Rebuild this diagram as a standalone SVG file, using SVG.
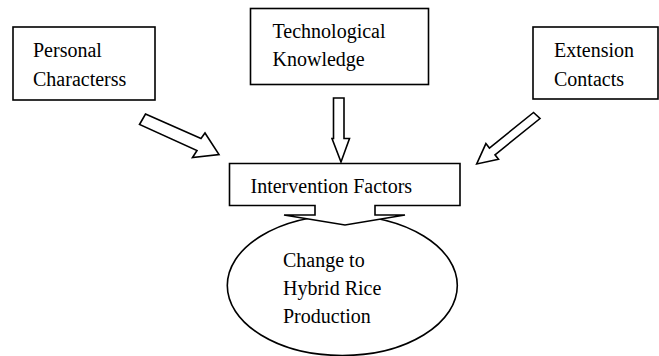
<svg xmlns="http://www.w3.org/2000/svg" width="659" height="356" viewBox="0 0 659 356">
<style>
.box{fill:#fff;stroke:#000;stroke-width:1.6}
.ln{fill:none;stroke:#000;stroke-width:1.6;stroke-linejoin:miter}
.arr{fill:#fff;stroke:#000;stroke-width:1.6;stroke-linejoin:miter}
text{font-family:"Liberation Serif","Times New Roman",serif;font-size:20px;fill:#000}
</style>
<rect width="659" height="356" fill="#fff"/>
<g id="personal">
<rect class="box" x="13" y="27" width="142" height="73"/>
<text x="33" y="57">Personal</text>
<text x="33" y="86">Characterss</text>
</g>
<g id="technological">
<rect class="box" x="250.5" y="8.5" width="178" height="76"/>
<text x="272.5" y="37.5">Technological</text>
<text x="272.5" y="66">Knowledge</text>
</g>
<g id="extension">
<rect class="box" x="533" y="27" width="125" height="72"/>
<text x="554" y="57">Extension</text>
<text x="554" y="86">Contacts</text>
</g>
<g id="connectors">
<polygon class="arr" points="145.5,114 201,138.5 205,133 219,154.5 192.5,157.5 197,150.5 139.5,124.5"/>
<polygon class="arr" points="333.5,98 344,98 344,138.5 349.5,138.5 341,162 332,138.5 333.5,138.5"/>
<polygon class="arr" points="533.5,112.5 489.4,148 485.9,143.6 476.7,164 498.5,159.2 495,154.8 540,118.5"/>
</g>
<g id="change">
<ellipse class="ln" cx="342.3" cy="285.5" rx="115" ry="70"/>
<text x="283" y="267">Change to</text>
<text x="283" y="295">Hybrid Rice</text>
<text x="283" y="323">Production</text>
</g>
<g id="intervention">
<path class="arr" d="M229.5,163.5 H460 V205.5 H375 V215 H405 L345,225 L284,215 H315 V205.5 H229.5 Z"/>
<text x="250.5" y="192.5">Intervention Factors</text>
</g>
</svg>
